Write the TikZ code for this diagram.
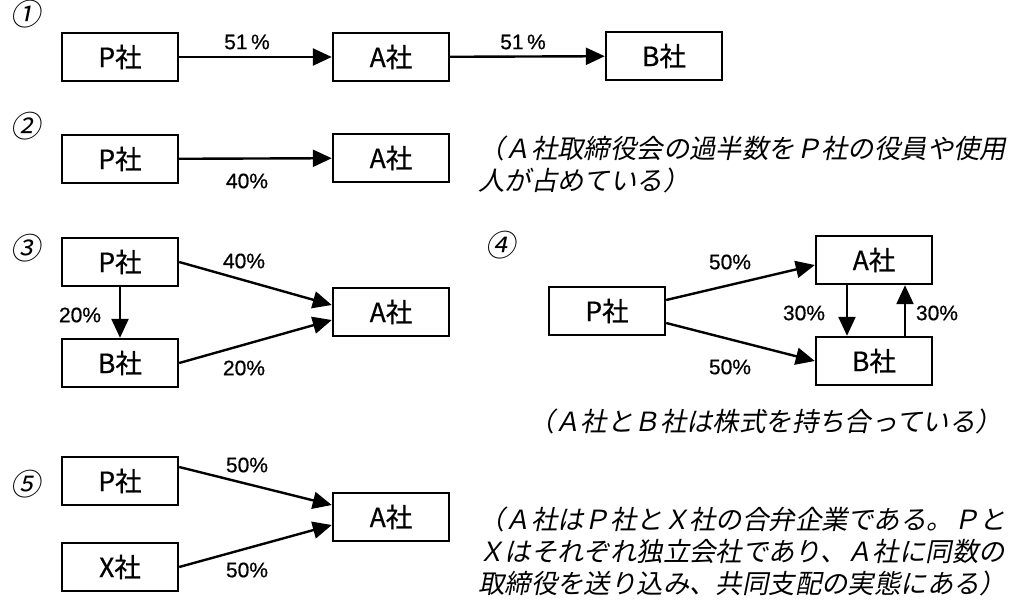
\documentclass[tikz,border=0pt]{standalone}
\usepackage{fontspec}
\setmainfont{Liberation Sans}[FakeBold=0.6]
\newfontfamily\jp{Noto Sans CJK JP}[FakeBold=0.6]
\newfontfamily\jpsl{Noto Sans CJK JP}[FakeSlant=0.2]
\newfontfamily\jpnum{Noto Sans CJK JP}[FakeSlant=0.2]
\usetikzlibrary{arrows.meta}
\begin{document}
\begin{tikzpicture}[x=1pt,y=-1pt,
  box/.style={draw,line width=2.4pt,minimum width=116pt,minimum height=48pt,inner sep=0pt,font=\jp\fontsize{26.5}{26.5}\selectfont},
  pct/.style={font=\fontsize{21}{21}\selectfont,inner sep=0pt},
  num/.style={font=\jpnum\fontsize{30}{30}\selectfont,inner sep=0pt},
  note/.style={font=\jpsl\fontsize{26.4}{32}\selectfont,inner sep=0pt,anchor=west,align=left},
  arr/.style={line width=2.4pt,-{Triangle[length=19pt,width=17pt]}}]
\useasboundingbox (0,0) rectangle (1013,603);
% row 1
\node[num] (n1) at (25,14) {①};
\node[box] (P1) at (120,57) {P社};
\node[box] (A1) at (391,57) {A社};
\node[box] (B1) at (664,56) {B社};
\draw[arr] (P1) -- (A1);
\draw[arr] (A1) -- (B1);
\node[pct] (l11) at (247,42) {51\,\%};
\node[pct] (l12) at (523,42) {51\,\%};
% row 2
\node[num] (n2) at (25,126) {②};
\node[box] (P2) at (120,159) {P社};
\node[box] (A2) at (391,158) {A社};
\draw[arr] (P2) -- (A2);
\node[pct] (l21) at (247,181) {40\%};
\node[note] (t2) at (478,164) {（Ａ社取締役会の過半数をＰ社の役員や使用\\人が占めている）};
% row 3
\node[num] (n3) at (25,248) {③};
\node[box] (P3) at (120,262) {P社};
\node[box] (B3) at (120,363) {B社};
\node[box] (A3) at (391,312) {A社};
\draw[arr] (P3.east) -- ([yshift=7pt]A3.west);
\draw[arr] (B3.east) -- ([yshift=-8pt]A3.west);
\draw[arr] (P3) -- (B3);
\node[pct] (l31) at (244,261) {40\%};
\node[pct] (l32) at (80,315) {20\%};
\node[pct] (l33) at (244,368) {20\%};
% row 4
\node[num] (n4) at (500,245) {④};
\node[box] (P4) at (607,311) {P社};
\node[box] (A4) at (874,260) {A社};
\node[box] (B4) at (874,361) {B社};
\draw[arr] ([yshift=11pt]P4.east) -- ([yshift=-5pt]A4.west);
\draw[arr] ([yshift=-12pt]P4.east) -- (B4.west);
\draw[arr] ([xshift=-27pt]A4.south) -- ([xshift=-27pt]B4.north);
\draw[arr] ([xshift=31pt]B4.north) -- ([xshift=31pt]A4.south);
\node[pct] (l41) at (730,262) {50\%};
\node[pct] (l42) at (730,367) {50\%};
\node[pct] (l43) at (804,313) {30\%};
\node[pct] (l44) at (937,313) {30\%};
\node[note,anchor=center] (t4) at (765,421) {（Ａ社とＢ社は株式を持ち合っている）};
% row 5
\node[num] (n5) at (25,484) {⑤};
\node[box] (P5) at (120,481) {P社};
\node[box] (X5) at (120,567) {X社};
\node[box] (A5) at (391,517) {A社};
\draw[arr] ([yshift=14pt]P5.east) -- ([yshift=12pt]A5.west);
\draw[arr] (X5.east) -- ([yshift=-8pt]A5.west);
\node[pct] (l51) at (247,465) {50\%};
\node[pct] (l52) at (247,570) {50\%};
\node[note] (t5) at (478,551) {（Ａ社はＰ社とＸ社の合弁企業である。Ｐと\\Ｘはそれぞれ独立会社であり、Ａ社に同数の\\取締役を送り込み、共同支配の実態にある）};
\end{tikzpicture}
\end{document}
